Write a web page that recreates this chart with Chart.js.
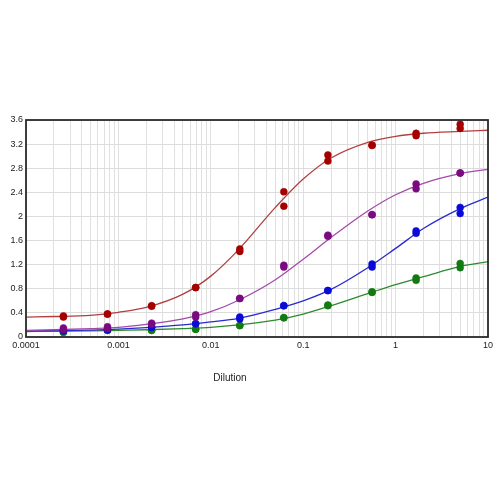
<!DOCTYPE html>
<html>
<head>
<meta charset="utf-8">
<script src="https://cdn.jsdelivr.net/npm/chart.js@4.4.0/dist/chart.umd.min.js"></script>
<style>
  html, body { margin: 0; padding: 0; background: #fff; }
  #wrap { width: 500px; height: 500px; }
</style>
</head>
<body>
<div id="wrap"><canvas id="elisa"></canvas></div>
<script>
// 3-fold dilution series, duplicates at each step
const dilutions = [0.000254, 0.000762, 0.00229, 0.00686, 0.0206, 0.0617, 0.185, 0.556, 1.667, 5];
const redRep1    = [0.33, 0.38, 0.51, 0.82, 1.42, 2.17, 2.92, 3.18, 3.34, 3.46];
const redRep2    = [0.35, 0.38, 0.52, 0.82, 1.46, 2.41, 3.02, 3.18, 3.38, 3.53];
const purpleRep1 = [0.12, 0.14, 0.21, 0.33, 0.64, 1.16, 1.67, 2.03, 2.46, 2.72];
const purpleRep2 = [0.15, 0.17, 0.23, 0.37, 0.64, 1.19, 1.69, 2.03, 2.54, 2.72];
const blueRep1   = [0.10, 0.12, 0.16, 0.22, 0.30, 0.52, 0.77, 1.16, 1.72, 2.05];
const blueRep2   = [0.11, 0.12, 0.16, 0.22, 0.33, 0.52, 0.77, 1.21, 1.76, 2.15];
const greenRep1  = [0.08, 0.11, 0.11, 0.13, 0.19, 0.32, 0.52, 0.74, 0.94, 1.15];
const greenRep2  = [0.08, 0.11, 0.11, 0.13, 0.19, 0.32, 0.53, 0.75, 0.98, 1.22];

// fitted curves
const curveX      = [0.0001, 0.0002, 0.0005, 0.001, 0.002, 0.005, 0.01, 0.02, 0.05, 0.1, 0.2, 0.5, 1, 2, 5, 10];
const redCurve    = [0.33, 0.34, 0.36, 0.41, 0.49, 0.71, 1.01, 1.45, 2.15, 2.62, 2.97, 3.23, 3.33, 3.38, 3.41, 3.43];
const purpleCurve = [0.11, 0.12, 0.14, 0.16, 0.21, 0.30, 0.42, 0.61, 0.95, 1.29, 1.65, 2.09, 2.36, 2.55, 2.71, 2.78];
const blueCurve   = [0.10, 0.105, 0.115, 0.13, 0.155, 0.20, 0.25, 0.31, 0.46, 0.60, 0.79, 1.15, 1.47, 1.80, 2.13, 2.32];
const greenCurve  = [0.09, 0.095, 0.10, 0.11, 0.12, 0.14, 0.16, 0.20, 0.28, 0.38, 0.52, 0.72, 0.87, 1.00, 1.17, 1.25];

const xTickLabels = ['0.0001', '0.001', '0.01', '0.1', '1', '10'];
const yTicks = [0, 0.4, 0.8, 1.2, 1.6, 2, 2.4, 2.8, 3.2, 3.6];

function pts(xs, ys) {
    return xs.map(function (x, i) { return { x: x, y: ys[i] }; });
}

function curveSet(ys, color) {
    return {
        type: 'line',
        data: pts(curveX, ys),
        borderColor: color,
        borderWidth: 1.3,
        pointRadius: 0,
        fill: false,
        cubicInterpolationMode: 'monotone',
        order: 2
    };
}

function dotSet(ys, color) {
    return {
        type: 'scatter',
        data: pts(dilutions, ys),
        backgroundColor: color,
        borderColor: color,
        pointRadius: 3.5,
        borderWidth: 0.5,
        order: 1
    };
}

// dark frame round the plot and the axis caption
const framePlugin = {
    id: 'frame',
    afterDraw: function (chart) {
        const a = chart.chartArea;
        const ctx = chart.ctx;
        ctx.save();
        ctx.strokeStyle = '#2a2a2a';
        ctx.lineWidth = 1.8;
        ctx.strokeRect(a.left, a.top, a.right - a.left, a.bottom - a.top);
        ctx.fillStyle = '#222';
        ctx.font = '10px "Liberation Sans", Arial, sans-serif';
        ctx.textAlign = 'center';
        ctx.textBaseline = 'middle';
        ctx.fillText('Dilution', 230, 378);
        ctx.restore();
    }
};

const ctx = document.getElementById('elisa').getContext('2d');
new Chart(ctx, {
    type: 'scatter',
    data: {
        datasets: [
            curveSet(redCurve, '#b04040'),
            curveSet(purpleCurve, '#a44aaa'),
            curveSet(blueCurve, '#2a2ad0'),
            curveSet(greenCurve, '#2e8a2e'),
            dotSet(redRep1, '#a40000'),
            dotSet(redRep2, '#a40000'),
            dotSet(purpleRep1, '#7a0a80'),
            dotSet(purpleRep2, '#7a0a80'),
            dotSet(blueRep1, '#0a0ad8'),
            dotSet(blueRep2, '#0a0ad8'),
            dotSet(greenRep1, '#127a12'),
            dotSet(greenRep2, '#127a12')
        ]
    },
    options: {
        responsive: true,
        maintainAspectRatio: false,
        animation: false,
        layout: { padding: { top: 120, right: 12, left: 0, bottom: 143 } },
        plugins: { legend: { display: false }, tooltip: { enabled: false } },
        scales: {
            x: {
                type: 'logarithmic',
                min: 0.0001,
                max: 10,
                afterFit: function (scale) { scale.height = 20; },
                afterBuildTicks: function (scale) {
                    const ticks = [];
                    xTickLabels.forEach(function (lab, i) {
                        const base = Number(lab);
                        for (let m = 1; m <= 9; m++) {
                            if (i === xTickLabels.length - 1 && m > 1) break;
                            ticks.push({ value: base * m, major: m === 1 });
                        }
                    });
                    scale.ticks = ticks;
                },
                ticks: {
                    autoSkip: false,
                    maxRotation: 0,
                    padding: 3,
                    color: '#222',
                    font: { family: '"Liberation Sans", Arial, sans-serif', size: 9 },
                    callback: function (value) {
                        const lab = xTickLabels.find(function (l) { return Math.abs(Number(l) - value) < value * 1e-6; });
                        return lab === undefined ? '' : lab;
                    }
                },
                grid: { color: '#e0e0e0', lineWidth: 1, drawTicks: false },
                border: { display: false }
            },
            y: {
                min: 0,
                max: 3.6,
                afterFit: function (scale) { scale.width = 26; },
                afterBuildTicks: function (scale) {
                    scale.ticks = yTicks.map(function (v) { return { value: v }; });
                },
                ticks: {
                    padding: 3,
                    color: '#222',
                    font: { family: '"Liberation Sans", Arial, sans-serif', size: 9 },
                    callback: function (value) { return String(parseFloat(value.toFixed(1))); }
                },
                grid: { color: '#dcdcdc', lineWidth: 1, drawTicks: false },
                border: { display: false }
            }
        }
    },
    plugins: [framePlugin]
});
</script>
</body>
</html>
